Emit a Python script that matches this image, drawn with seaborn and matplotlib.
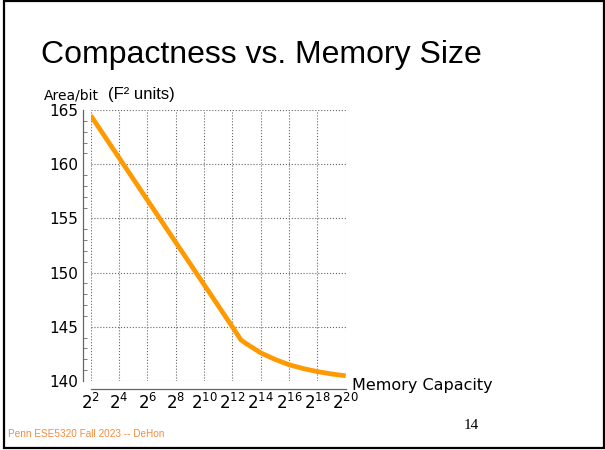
import numpy as np
import pandas as pd
import matplotlib
matplotlib.use('Agg')
import matplotlib.pyplot as plt
from matplotlib.patches import Rectangle
from matplotlib.ticker import MultipleLocator, NullLocator
import seaborn as sns

# --- data ---
exponents = [2, 4, 6, 8, 10, 12, 12.6, 13, 14, 15, 16, 17, 18, 19, 20]
area_per_bit = [164.5, 160.6, 156.7, 152.8, 148.9, 145.0, 143.8, 143.43,
                142.6, 142.0, 141.5, 141.15, 140.87, 140.65, 140.48]
tick_exponents = [2, 4, 6, 8, 10, 12, 14, 16, 18, 20]
tick_labels = [r'$2^{%d}$' % e for e in tick_exponents]

df = pd.DataFrame({'capacity': 2.0 ** np.array(exponents), 'area': area_per_bit})

sns.set_style('white')
plt.rcParams['font.family'] = ['DejaVu Sans']
plt.rcParams['text.color'] = 'black'
plt.rcParams['xtick.labelcolor'] = 'black'
plt.rcParams['ytick.labelcolor'] = 'black'

fig = plt.figure(figsize=(6.05, 4.5), dpi=100)
ax = fig.add_axes([0.1499, 0.1533, 0.4215, 0.6022])

sns.lineplot(data=df, x='capacity', y='area', color='#ff9900', lw=3.4, ax=ax,
             solid_capstyle='butt', solid_joinstyle='miter')

ax.set_xscale('log', base=2)
ax.set_xlim(2 ** 2, 2 ** 20)
ax.set_ylim(140, 165)
ax.set_xticks([2.0 ** e for e in tick_exponents])
ax.set_xticklabels(tick_labels)
ax.xaxis.set_minor_locator(NullLocator())
ax.yaxis.set_major_locator(MultipleLocator(5))
ax.yaxis.set_minor_locator(MultipleLocator(1))
ax.set_xlabel('')
ax.set_ylabel('')

ax.grid(True, which='major', linestyle=':', color='#666666', lw=0.8)
for side in ['top', 'right']:
    ax.spines[side].set_visible(False)
for side in ['left', 'bottom']:
    ax.spines[side].set_position(('outward', 5.8))
    ax.spines[side].set_color('#666666')
    ax.spines[side].set_linewidth(0.9)

ax.tick_params(axis='y', which='major', direction='out', length=2, width=0.8,
               color='#666666', labelcolor='black', pad=1, labelsize=11)
ax.tick_params(axis='y', which='minor', direction='in', length=3, width=0.6,
               color='#666666', left=True)
ax.tick_params(axis='x', which='major', direction='in', length=3, width=0.8,
               color='#666666', labelcolor='black', pad=2.5, labelsize=12)

# slide texts
fig.text(0.432, 0.86, 'Compactness vs. Memory Size', ha='center', va='baseline',
         fontsize=23, family='Liberation Sans', color='black')
fig.text(0.0727, 0.779, 'Area/bit', ha='left', va='baseline', fontsize=10, color='black')
fig.text(0.179, 0.780, '(F\u00b2 units)', ha='left', va='baseline', fontsize=12,
         family='Liberation Sans', color='black')
fig.text(0.582, 0.1333, 'Memory Capacity', ha='left', va='baseline', fontsize=11.5,
         color='black')
fig.text(0.779, 0.0467, '14', ha='center', va='baseline', fontsize=11,
         family='Liberation Serif', color='black')
fig.text(0.0135, 0.029, 'Penn ESE5320 Fall 2023 -- DeHon', ha='left', va='baseline',
         fontsize=7.2, family='Liberation Sans', color='#f58b3d')

# slide frame
fig.patches.append(Rectangle((0.0066, 0.0044), 0.991, 0.9923, transform=fig.transFigure,
                             fill=False, edgecolor='black', lw=1.6))

fig.savefig('out.png', dpi=100)
